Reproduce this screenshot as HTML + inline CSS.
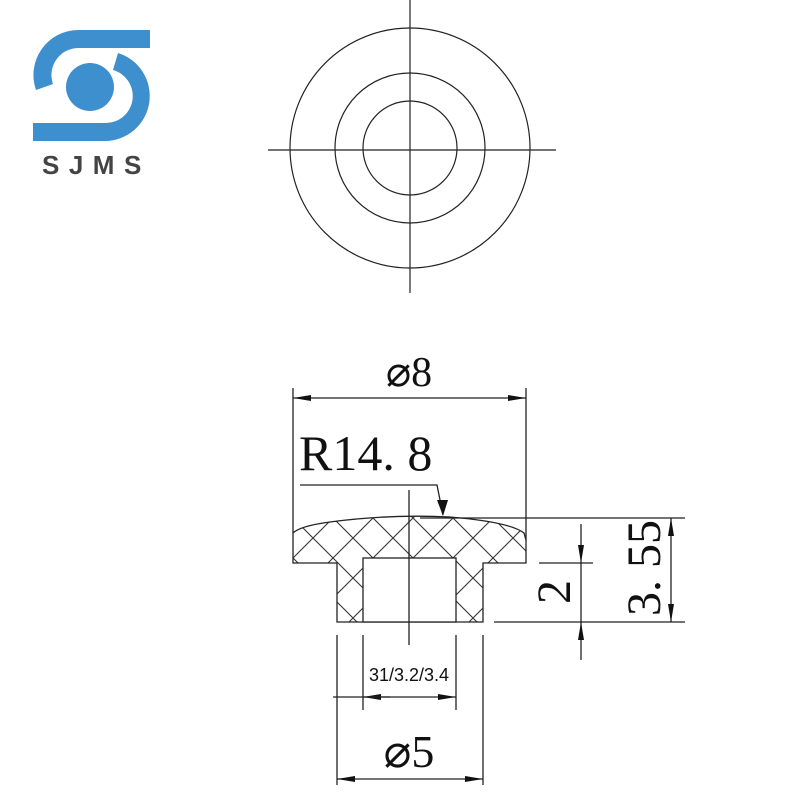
<!DOCTYPE html>
<html><head><meta charset="utf-8"><style>
html,body{margin:0;padding:0;background:#fff;}
svg{display:block;}
</style></head><body>
<svg width="800" height="800" viewBox="0 0 800 800" xmlns="http://www.w3.org/2000/svg">
<defs>
<marker id="a" viewBox="0 0 10 10" refX="10" refY="5" markerWidth="18" markerHeight="6" markerUnits="userSpaceOnUse" orient="auto-start-reverse" preserveAspectRatio="none">
<path d="M0,0 L10,5 L0,10 Z" fill="#111"/></marker>
<pattern id="h" patternUnits="userSpaceOnUse" width="40" height="40" x="293" y="518">
<path d="M-10,10 L10,-10 M0,40 L40,0 M30,50 L50,30 M-10,30 L10,50 M0,0 L40,40 M30,-10 L50,10" stroke="#333" stroke-width="1.1"/>
</pattern>
</defs>
<g fill="#3d8fce">
<path d="M150,30 L78,30 A45,45 0 0 0 36,90 L53,84 A27,27 0 0 1 78,48 L150,48 Z"/>
<path d="M33,141 L105,141 A45,45 0 0 0 118,53 L113,70 A27,27 0 0 1 105,123 L33,123 Z"/>
<circle cx="90" cy="87" r="24"/>
</g>
<text x="42" y="174" font-family="Liberation Sans, sans-serif" font-size="26" font-weight="bold" fill="#444" letter-spacing="9.5">SJMS</text>
<g stroke="#222" stroke-width="1.2" fill="none">
<circle cx="410" cy="148" r="120"/>
<circle cx="410" cy="148" r="75"/>
<circle cx="410" cy="148" r="47"/>
<line x1="268" y1="150" x2="556" y2="150"/>
<line x1="410" y1="0" x2="410" y2="293"/>
</g>
<path d="M293,563 L293,533 Q300,526 330,522 Q390,514 450,517 Q510,522 524,533 L526,540 L526,563 L483,563 L483,622 L337,622 L337,563 Z M363,558 L363,622 L456,622 L456,558 Z" fill="url(#h)" fill-rule="evenodd"/>
<g stroke="#222" stroke-width="1.3" fill="none">
<path d="M293,563 L293,533 Q300,526 330,522 Q390,514 450,517 Q510,522 524,533 L526,540 L526,563 L483,563 L483,622 L337,622 L337,563 Z"/>
<rect x="363" y="558" width="93" height="64" fill="#fff"/>
<line x1="409" y1="490" x2="409" y2="645"/>
<line x1="293" y1="388" x2="293" y2="533"/>
<line x1="526" y1="388" x2="526" y2="540"/>
<line x1="420" y1="518" x2="685" y2="518"/>
<line x1="539" y1="563" x2="593" y2="563"/>
<line x1="494" y1="622" x2="685" y2="622"/>
<line x1="337" y1="635" x2="337" y2="785"/>
<line x1="363" y1="635" x2="363" y2="710"/>
<line x1="456" y1="635" x2="456" y2="710"/>
<line x1="483" y1="635" x2="483" y2="785"/>
<line x1="293" y1="398" x2="526" y2="398" marker-start="url(#a)" marker-end="url(#a)"/>
<line x1="671" y1="518" x2="671" y2="622" marker-start="url(#a)" marker-end="url(#a)"/>
<line x1="581" y1="524" x2="581" y2="563" marker-end="url(#a)"/>
<line x1="581" y1="660" x2="581" y2="622" marker-end="url(#a)"/>
<line x1="581" y1="563" x2="581" y2="622"/>
<line x1="333" y1="697" x2="363" y2="697"/>
<line x1="390" y1="697" x2="363" y2="697" marker-end="url(#a)"/>
<line x1="363" y1="697" x2="456" y2="697" marker-end="url(#a)"/>
<line x1="337" y1="779" x2="483" y2="779" marker-start="url(#a)" marker-end="url(#a)"/>
<path d="M300,485 L437,485 L443,515" />
</g>
<path d="M437,500 L448,500 L443,516 Z" fill="#111"/>
<g font-family="Liberation Serif, serif" fill="#111">
<text x="409" y="386" font-size="42" text-anchor="middle">⌀8</text>
<text x="299" y="470" font-size="50">R14. 8</text>
<text x="409" y="767" font-size="46" text-anchor="middle">⌀5</text>
<text transform="translate(570,592) rotate(-90)" font-size="48" text-anchor="middle">2</text>
<text transform="translate(660,568) rotate(-90)" font-size="48" text-anchor="middle">3. 55</text>
</g>
<text x="409" y="681" font-family="Liberation Sans, sans-serif" font-size="18" fill="#111" text-anchor="middle">31/3.2/3.4</text>
</svg>
</body></html>
